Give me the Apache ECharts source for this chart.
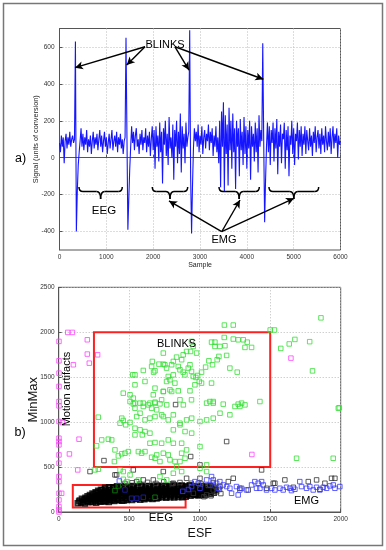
<!DOCTYPE html>
<html><head><meta charset="utf-8">
<script src="https://cdn.jsdelivr.net/npm/echarts@6/dist/echarts.min.js"></script>
<style>html,body{margin:0;padding:0;background:#fff}#c{width:386px;height:550px}</style>
</head><body><div id="c"></div>
<script>
// ---------- Panel a) : raw signal ----------
const sampleStart = 0;
const sampleStep = 20;
const signal = [
80,30,120,60,110,-30,90,130,50,110,
70,140,60,100,120,80,100,630,-400,-180,
-40,30,90,160,60,130,40,110,70,150,
30,100,60,120,20,90,140,50,110,70,
130,40,100,150,60,120,30,90,140,60,
110,20,80,130,50,100,150,40,90,120,
60,140,30,110,70,130,50,100,20,90,
110,650,120,-390,-220,-60,60,170,80,140,
40,120,160,60,100,20,130,70,150,40,
110,80,160,30,120,60,140,10,100,170,
40,150,-60,170,60,120,-20,190,30,140,
-140,160,70,200,10,130,-40,220,50,110,
0,180,-120,150,60,200,-30,140,20,240,
-80,170,50,130,-30,190,60,110,140,690,
-100,-410,-150,50,160,90,140,60,180,30,
120,70,170,20,110,150,50,130,90,180,
40,140,80,160,10,120,60,170,30,110,
-30,200,-160,250,60,300,-180,230,20,180,
-150,270,40,200,-60,240,30,160,-170,200,
60,160,-100,210,40,140,-40,220,20,170,
-60,150,50,200,-120,170,60,130,-20,190,
30,160,-80,230,60,150,90,620,100,-350,
-120,60,190,30,170,-40,150,80,190,-20,
160,50,210,-90,140,60,180,-30,130,100,
190,-60,150,40,170,-100,120,70,200,20,
160,-40,130,90,190,-10,150,60,170,10,
130,70,170,20,150,90,40,160,60,120,
10,140,80,170,30,110,150,50,130,20,
160,70,120,30,170,90,40,140,60,160,
20,110,170,50,130,80,160,0,120,70,
90];
const signalTicks = [-400,-200,0,200,400,600];
// annotation arrows [fromSample, fromValue, toSample, toValue]
const blinkArrows = [[1826,601,331,488],[1826,601,1435,502],[2466,601,2765,475],[2466,601,4352,425]];
const emgArrows = [[3463,-401,2338,-234],[3463,-401,3854,-229],[3463,-401,5007,-220]];
// braces [startSample, endSample]
const eegBraces = [[416,1340]];
const emgBraces = [[1981,2737],[3406,4266],[4473,5534]];

// ---------- Panel b) : ESF vs MinMax ----------
const eegCorePts = [
[135,98],[160,104],[185,95],[210,108],[240,112],[265,103],[295,115],[325,118],[355,112],
[145,116],[172,112],[198,120],[226,117],[254,123],[280,118],[308,125],[336,121],[365,128],[393,124],[421,130],[450,126],[478,133],
[150,128],[178,135],[205,126],[232,138],[262,131],[290,140],[318,127],[347,136],[376,130],[405,141],[433,133],[462,128],[490,139],[520,134],[548,145],[578,138],[607,142],[636,150],[665,144],[694,152],
[165,146],[192,142],[220,150],[248,145],[275,152],[303,148],[332,154],[361,146],[390,153],[418,149],[447,156],[475,150],[504,157],[533,152],[561,158],[590,153],[619,160],[647,155],[676,162],[705,158],[733,164],[762,160],[790,166],[819,162],[848,168],[876,165],[900,170],
[190,158],[218,165],[247,155],[276,168],[304,160],[333,170],[362,157],[390,166],[419,161],[447,172],[476,158],[505,167],[534,163],[562,174],[591,160],[620,170],[648,165],[677,176],[706,168],[734,178],[763,171],[792,180],[820,174],[849,184],[878,176],[906,186],[935,180],[964,190],[992,183],
[205,176],[233,172],[262,180],[290,175],[319,182],[347,178],[376,184],[405,180],[433,186],[462,181],[490,187],[519,183],[548,189],[576,184],[605,190],[634,186],[662,192],[691,187],[720,193],[748,189],[777,195],[806,190],[834,196],[863,192],[892,198],[920,194],[949,200],[978,196],[1006,192],[1035,186],
[222,188],[250,196],[279,186],[308,198],[336,191],[365,200],[394,189],[422,197],[451,192],[480,202],[508,190],[537,199],[566,194],[594,205],[623,192],[652,201],[680,196],[709,206],[738,194],[766,203],[795,198],[824,208],[852,196],[881,205],[910,200],[938,210],[967,198],[996,207],[1024,202],[1053,212],[1078,200],
[240,205],[268,211],[297,207],[326,214],[354,209],[383,215],[412,210],[440,217],[469,212],[498,218],[526,213],[555,219],[584,214],[612,221],[641,216],[670,222],[698,217],[727,223],[756,218],[784,225],[813,220],[842,226],[870,221],[899,228],[928,223],[956,229],[985,224],[1014,231],[1042,226],[1071,222],[1100,215],
[262,218],[290,226],[319,215],[348,228],[376,220],[405,230],[434,217],[462,226],[491,222],[520,232],[548,219],[577,228],[606,224],[634,234],[663,220],[692,230],[720,225],[749,236],[778,222],[806,231],[835,226],[864,237],[892,223],[921,232],[950,228],[978,238],[1007,224],[1036,233],[1064,229],[1093,240],
[280,236],[309,242],[337,238],[366,244],[394,239],[423,246],[452,240],[480,247],[509,242],[538,248],[566,243],[595,250],[624,245],[652,251],[681,246],[710,253],[738,248],[767,254],[796,249],[824,256],[853,251],[882,257],[910,252],[939,259],[968,254],[996,260],[1025,248],[1054,255],[1082,250],[1111,245],
[300,248],[328,256],[357,245],[386,258],[414,250],[443,262],[472,247],[500,256],[529,252],[558,264],[586,249],[615,258],[644,254],[672,266],[701,251],[730,260],[758,256],[787,268],[816,253],[844,262],[873,258],[902,270],[930,255],[959,264],[988,260],[1016,272],[1045,257],[1074,266],[1102,262],
[330,268],[358,274],[387,270],[416,276],[444,271],[473,278],[502,273],[530,279],[559,274],[588,281],[616,276],[645,282],[674,277],[702,284],[731,279],[760,285],[788,280],[817,287],[846,282],[874,288],[903,283],[932,289],[960,284],[989,276],[1018,290],[1047,280],[1075,285],
[385,276],[414,285],[442,279],[471,290],[500,282],[528,288],[557,278],[586,292],[614,284],[643,290],[672,280],[700,294],[729,286],[758,292],[786,282],[815,296],[844,288],[872,294],[901,284],[930,298],[958,290],[987,282]
];
const blackPts = [
[470,318],[520,325],[575,312],[630,330],[690,318],[745,335],[805,315],[860,328],[940,320],[1010,312],[1060,295],[1110,285],[1140,250],[1120,225],[1150,205],[1080,180],[1030,170],
[829,1195],[1191,784],[936,617],[1002,524],[321,572],[222,450],[399,413],[411,413],[529,468],[553,338],[600,357],[671,357],[742,450],[813,320],[907,375],[1002,375],[1096,327],[1203,338],[1439,468],[1522,320],[1604,357],[1770,338],[1888,320],[1959,375],[1238,375],[1144,283],[1096,245],[1285,264],[1474,264],[1853,253],[1664,275],[1344,245],[1049,190],[955,208],[1533,320],[1829,357],[1935,375]
];
const greenPts = [
[1860,2160],[1175,2080],[1238,2080],[1500,2025],[1530,2025],[1675,1920],[1635,1870],[1780,1895],[1575,1820],[1800,1570],[1990,1160],
[1084,1890],[1108,1890],[1174,1942],[1238,1924],[1273,1916],[1309,1916],[1337,1890],[1368,1831],[1321,1831],[1108,1842],[1143,1842],[1179,1850],[1191,1742],[1136,1731],[1124,1694],[1065,1682],[1091,1638],[1042,1612],[1013,1556],[985,1519],[973,1497],[997,1452],[1084,1434],[1214,1601],[1266,1556],
[942,1898],[954,1842],[935,1786],[978,1768],[907,1786],[883,1749],[872,1694],[836,1723],[813,1675],[801,1638],[753,1638],[765,1601],[848,1619],[860,1582],[883,1556],[895,1526],[919,1601],[931,1638],[942,1564],[954,1508],[813,1526],[777,1508],[789,1471],[765,1452],[824,1434],[789,1359],[742,1341],[801,1341],[848,1348],[931,1348],[860,1248],[942,1248],[1072,1229],[1096,1211],[1167,1200],[1273,1200],[1297,1211],[1427,1229],[966,1415],[1013,1434],
[525,1526],[541,1526],[600,1575],[664,1675],[659,1619],[683,1571],[673,1556],[711,1645],[742,1645],[742,1768],[612,1452],[541,1415],[458,1322],[506,1304],[529,1267],[671,1304],[683,1378],[742,1341],[730,1248],[541,1211],[600,1211],[647,1211],[683,1222],[506,1229],
[281,1055],[447,1044],[458,1018],[435,988],[475,970],[506,996],[529,1203],[541,1155],[577,1211],[600,1174],[636,1192],[683,1211],[718,1203],[659,1155],[695,1137],[577,1099],[553,1062],[612,1025],[647,1044],[683,1062],[730,1081],[541,932],[577,914],[612,895],[593,858],[647,877],[683,773],[647,765],[730,765],[742,654],[612,672],[588,654],[565,672],[541,858],[494,672],[470,654],[447,647],[423,624],[399,691],[376,802],[352,810],[305,802],[269,736],[395,561],[435,468],[458,450],[506,412],[281,476],[258,468],[458,364],[482,338],[565,357],[659,609],[683,598],[718,561],[695,635],
[742,1062],[813,1081],[777,1025],[860,988],[907,1025],[943,1044],[1002,1007],[1049,1025],[1096,1044],[1144,1099],[1214,1081],[1250,1174],[1285,1174],[1321,1192],[1096,1229],[1049,1211],[884,1192],[766,1192],[813,914],[860,970],[896,895],[943,877],[777,802],[813,765],[872,765],[907,691],[872,654],[777,635],[789,580],[825,561],[860,561],[896,598],[1002,728],[1049,524],[836,505],[872,450],[813,431],[766,357],[718,394],[1983,1155],[1687,598],[1947,598],[1049,450],[1002,487]
];
const darkGreenPts = [[399,238],[683,164],[423,290]];
const bluePts = [
[1084,394],[1096,357],[1120,320],[1143,338],[1167,301],[1132,264],[1191,283],[1214,264],[1261,283],[1285,245],[1297,264],[1332,245],[1273,190],[1226,208],[1368,301],[1391,338],[1403,264],[1415,320],[1427,264],[1439,338],[1451,301],[1474,245],[1510,264],[1533,245],[1569,264],[1592,245],[1616,275],[1640,264],[1651,238],[1675,253],[1710,338],[1722,283],[1758,264],[1781,283],[1805,245],[1829,275],[1852,245],[1876,275],[1900,264],[1923,290],[1947,301],[1959,264],[1994,283],[1002,264],[942,283],[966,338],[990,320],[1049,357],[1072,301],
[430,345],[880,230],[920,250]
];
const darkBluePts = [[470,245],[517,153],[553,153],[600,164]];
const magentaPts = [
[64,1998],[97,1998],[2,1898],[203,1916],[203,1757],[276,1749],[104,1638],[217,1656],[2,1682],[2,1545],[2,1397],[2,1229],
[2,1181],[2,1007],[2,821],[2,784],[2,747],[2,635],[2,543],[2,394],[2,338],[2,208],[2,134],[2,60],[2,23],[2,0],
[26,995],[144,810],[76,646],[135,468],[21,208],[1647,1712],[1370,640]
];
const blinkBox = [250,500,1500,2000];
const eegBox = [100,50,900,300];

const FONT = '"Liberation Sans", Arial, Helvetica, sans-serif';
const chart = echarts.init(document.getElementById('c'), null, {renderer:'canvas'});

const sigData = signal.map((v,i)=>[sampleStart + i*sampleStep, v]);
const arrowLine = arr => arr.map(a => [{coord:[a[0],a[1]]},{coord:[a[2],a[3]]}]);
const plain = v => String(v);

const axisLine = {show:true,lineStyle:{color:'#555',width:1}};
const splitLine = {show:true,lineStyle:{color:'#bbb',type:[1,2],width:1}};
const lbl = m => ({fontSize:6.5,color:'#333',fontFamily:FONT,margin:m,formatter:plain});
const tick = {show:true,inside:true,length:3,lineStyle:{color:'#555'}};
function sq(color,w){return {color:'rgba(0,0,0,0)',borderColor:color,borderWidth:w||1};}
const SS = 4.5;

chart.setOption({
  animation:false,
  backgroundColor:'#fff',
  grid:[
    {left:59.5,top:28.5,width:281,height:221.5,show:true,borderColor:'#555',borderWidth:1,backgroundColor:'rgba(0,0,0,0)'},
    {left:58.7,top:287.3,width:282,height:224.7,show:true,borderColor:'#555',borderWidth:1,backgroundColor:'rgba(0,0,0,0)'}
  ],
  xAxis:[
    {gridIndex:0,type:'value',min:0,max:6000,interval:1000,axisLine,splitLine,axisTick:tick,axisLabel:lbl(4),
      name:'Sample',nameLocation:'middle',nameGap:11.5,nameMoveOverlap:false,nameTextStyle:{fontSize:7,fontFamily:FONT,color:'#222'}},
    {gridIndex:1,type:'value',min:0,max:2000,interval:500,axisLine,splitLine,axisTick:tick,axisLabel:lbl(4),
      name:'ESF',nameLocation:'middle',nameGap:15,nameMoveOverlap:false,nameTextStyle:{fontSize:12.5,fontFamily:FONT,color:'#111'}}
  ],
  yAxis:[
    {gridIndex:0,type:'value',min:-500,max:700,axisLine,splitLine,
      axisLabel:Object.assign(lbl(5),{customValues:signalTicks}),
      axisTick:Object.assign({},tick,{customValues:signalTicks}),
      name:'Signal (units of conversion)',nameLocation:'middle',nameGap:20,nameMoveOverlap:false,nameTextStyle:{fontSize:7.3,fontFamily:FONT,color:'#222'}},
    {gridIndex:1,type:'value',min:0,max:2500,interval:500,axisLine,splitLine,axisTick:tick,axisLabel:lbl(4),
      name:'MinMax',nameLocation:'middle',nameGap:19,nameMoveOverlap:false,nameTextStyle:{fontSize:13,fontFamily:FONT,color:'#111'}}
  ],
  series:[
    {type:'line',xAxisIndex:0,yAxisIndex:0,data:sigData,showSymbol:false,symbol:'none',
     lineStyle:{color:'#1515ff',width:1.1},z:2,
     markLine:{silent:true,symbol:['none','arrow'],symbolSize:[6,8],label:{show:false},
       lineStyle:{color:'#000',width:1.4,type:'solid'},
       data:arrowLine(blinkArrows).concat(arrowLine(emgArrows))}},
    {type:'scatter',xAxisIndex:1,yAxisIndex:1,data:eegCorePts,symbol:'rect',symbolSize:5,itemStyle:sq('#000',1.6),z:2},
    {type:'scatter',xAxisIndex:1,yAxisIndex:1,data:blackPts,symbol:'rect',symbolSize:SS,itemStyle:sq('#333'),z:2},
    {type:'scatter',xAxisIndex:1,yAxisIndex:1,data:greenPts,symbol:'rect',symbolSize:SS,itemStyle:sq('#33e033'),z:3},
    {type:'scatter',xAxisIndex:1,yAxisIndex:1,data:darkGreenPts,symbol:'rect',symbolSize:SS,itemStyle:sq('#0a8a0a'),z:3},
    {type:'scatter',xAxisIndex:1,yAxisIndex:1,data:bluePts,symbol:'rect',symbolSize:SS,itemStyle:sq('#3a3aff'),z:4},
    {type:'scatter',xAxisIndex:1,yAxisIndex:1,data:darkBluePts,symbol:'rect',symbolSize:SS,itemStyle:sq('#2020b0'),z:4},
    {type:'scatter',xAxisIndex:1,yAxisIndex:1,data:magentaPts,symbol:'rect',symbolSize:SS,itemStyle:sq('#ff44ff'),z:5,
     markArea:{silent:true,itemStyle:{color:'rgba(0,0,0,0)',borderColor:'#ff2020',borderWidth:2},
       data:[[{coord:[blinkBox[0],blinkBox[3]]},{coord:[blinkBox[2],blinkBox[1]]}],
             [{coord:[eegBox[0],eegBox[3]]},{coord:[eegBox[2],eegBox[1]]}]]}}
  ]
});

// braces + texts
const graphics = [];
function addBrace(s0,s1){
  const p0 = chart.convertToPixel({xAxisIndex:0},s0);
  const p1 = chart.convertToPixel({xAxisIndex:0},s1);
  const pc = (p0+p1)/2, yT=187, yM=191.5, yB=199, r=4;
  const st = {stroke:'#000',lineWidth:1.5,fill:null};
  graphics.push({type:'bezierCurve',z:50,shape:{x1:p0,y1:yT,cpx1:p0,cpy1:yM,x2:p0+r,y2:yM},style:st});
  graphics.push({type:'line',z:50,shape:{x1:p0+r,y1:yM,x2:pc-r,y2:yM},style:st});
  graphics.push({type:'bezierCurve',z:50,shape:{x1:pc-r,y1:yM,cpx1:pc,cpy1:yM,x2:pc,y2:yB},style:st});
  graphics.push({type:'bezierCurve',z:50,shape:{x1:pc,y1:yB,cpx1:pc,cpy1:yM,x2:pc+r,y2:yM},style:st});
  graphics.push({type:'line',z:50,shape:{x1:pc+r,y1:yM,x2:p1-r,y2:yM},style:st});
  graphics.push({type:'bezierCurve',z:50,shape:{x1:p1-r,y1:yM,cpx1:p1,cpy1:yM,x2:p1,y2:yT},style:st});
}
eegBraces.concat(emgBraces).forEach(b=>addBrace(b[0],b[1]));
function txt(t,x,y,size,rot){
  return {type:'text',x:x,y:y,rotation:rot||0,z:60,style:{text:t,font:`${size}px ${FONT}`,fill:'#000',align:'center',verticalAlign:'middle'}};
}
graphics.push(txt('BLINKS',165,45,11));
graphics.push(txt('EEG',104,211,11.5));
graphics.push(txt('EMG',224,240,11));
graphics.push(txt('a)',20.5,159,12.5));
graphics.push(txt('b)',20,433,12.5));
graphics.push(txt('BLINKS',176.5,344,11));
graphics.push(txt('EEG',161,517.5,11.5));
graphics.push(txt('EMG',306.5,501,11));
graphics.push(txt('Motion artifacts',67,389,11,Math.PI/2));
graphics.push({type:'rect',z:70,shape:{x:3.5,y:3.5,width:379,height:542},style:{stroke:'#777',lineWidth:1.5,fill:null}});
chart.setOption({graphic:graphics});
</script></body></html>
